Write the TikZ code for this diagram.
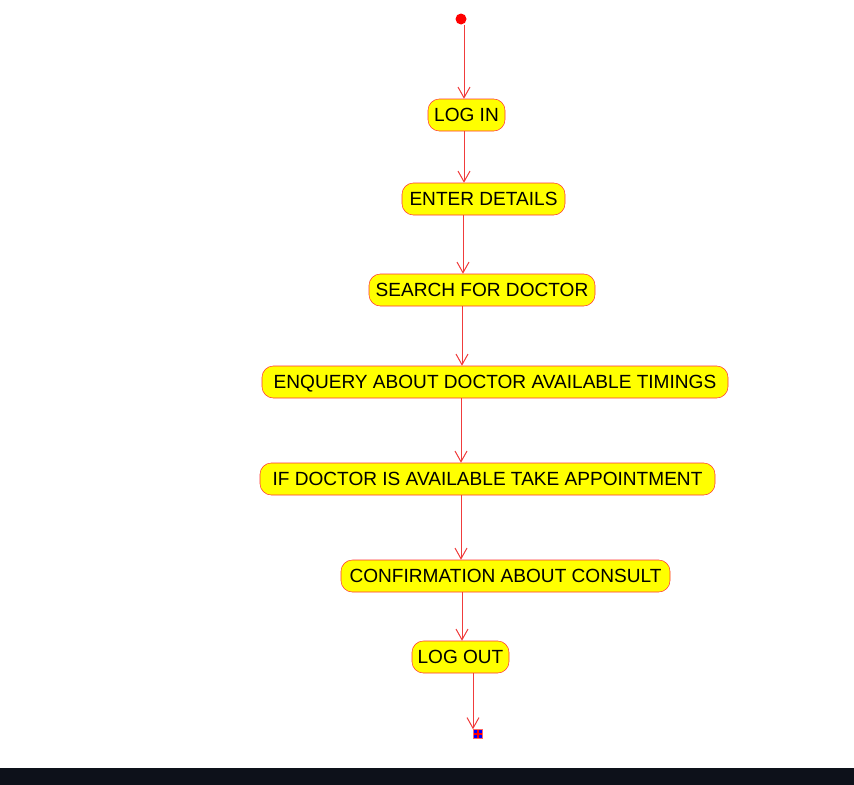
\documentclass[tikz,border=0pt]{standalone}
\usepackage{fontspec}
\setmainfont{Liberation Sans}
\usetikzlibrary{arrows.meta}
\definecolor{actfill}{HTML}{FFFF00}
\definecolor{actline}{HTML}{FF3333}
\definecolor{flowline}{HTML}{F03C3C}
\definecolor{band}{HTML}{0D111A}
\begin{document}
\begin{tikzpicture}[
    x=0.75pt, y=-0.75pt,
    activity/.style={
      draw=actline,
      fill=actfill,
      rounded corners=8.5pt,
      minimum height=24pt,
      inner sep=0pt,
      text height=10.2pt,
      text depth=0pt,
      align=center,
      font=\fontsize{14.3pt}{16pt}\selectfont
    },
    initial/.style={
      circle,
      fill=red,
      inner sep=0pt,
      minimum size=8.25pt
    },
    final/.style={
      draw=red!60,
      fill=blue,
      inner sep=0pt,
      minimum size=6.75pt,
      path picture={
        \draw[red, line width=0.9pt]
          (path picture bounding box.north) -- (path picture bounding box.south)
          (path picture bounding box.west) -- (path picture bounding box.east);
      }
    },
    flow/.style={
      draw=flowline,
      line width=0.75pt,
      -{Straight Barb[length=8pt,width=9pt]}
    }
  ]
    \useasboundingbox (0,0) rectangle (854,785);
    \fill[band] (0,768) rectangle (854,785);

    \node[initial] (start) at (461,19) {};
    \node[activity, minimum width=57.75pt] (login) at (466.5,115) {LOG IN};
    \node[activity, minimum width=122.25pt] (details) at (483.5,199) {ENTER DETAILS};
    \node[activity, minimum width=169.5pt] (search) at (482,290) {SEARCH FOR DOCTOR};
    \node[activity, minimum width=349.5pt] (enquery) at (495,382) {ENQUERY ABOUT DOCTOR AVAILABLE TIMINGS};
    \node[activity, minimum width=341.25pt] (available) at (487.5,479) {IF DOCTOR IS AVAILABLE TAKE APPOINTMENT};
    \node[activity, minimum width=246.75pt] (confirm) at (505.5,576) {CONFIRMATION ABOUT CONSULT};
    \node[activity, minimum width=72.75pt] (logout) at (460.5,657) {LOG OUT};
    \node[final] (end) at (478,734) {};

    \draw[flow] (start.south -| 464,0) -- (login.north -| 464,0);
    \draw[flow] (login.south -| 464,0) -- (details.north -| 464,0);
    \draw[flow] (details.south -| 463,0) -- (search.north -| 463,0);
    \draw[flow] (search.south -| 462,0) -- (enquery.north -| 462,0);
    \draw[flow] (enquery.south -| 461,0) -- (available.north -| 461,0);
    \draw[flow] (available.south -| 461,0) -- (confirm.north -| 461,0);
    \draw[flow] (confirm.south -| 462,0) -- (logout.north -| 462,0);
    \draw[flow] (logout.south -| 473,0) -- (end.north west -| 473,0);
  \end{tikzpicture}
\end{document}
